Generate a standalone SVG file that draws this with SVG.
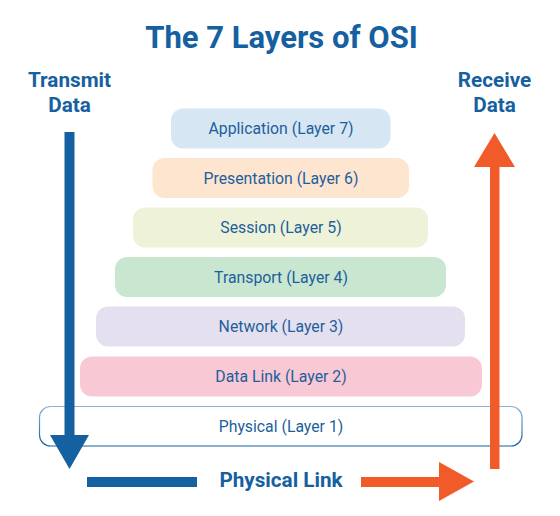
<svg xmlns="http://www.w3.org/2000/svg" width="560" height="516" viewBox="0 0 560 516">
<defs>
<style>
.title{font-family:Roboto,"Liberation Sans",sans-serif;font-weight:700;fill:#1560a0;}
.lbl{font-family:Roboto,"Liberation Sans",sans-serif;font-size:15.8px;fill:#1d5f9c;text-anchor:middle;}
.side{font-family:Roboto,"Liberation Sans",sans-serif;font-weight:700;font-size:20.7px;fill:#1560a0;text-anchor:middle;}
</style>
<linearGradient id="pg" x1="0" y1="0" x2="0" y2="1">
<stop offset="0" stop-color="#8fb1d2"/>
<stop offset="1" stop-color="#1560a0"/>
</linearGradient>
</defs>
<rect width="560" height="516" fill="#ffffff"/>
<text class="title" x="281.5" y="48.3" font-size="31" text-anchor="middle">The 7 Layers of OSI</text>
<text class="side" x="69.5" y="87">Transmit</text>
<text class="side" x="69.5" y="112">Data</text>
<text class="side" x="494.5" y="87">Receive</text>
<text class="side" x="494.5" y="112">Data</text>
<g id="layer7"><rect x="171" y="108.5" width="219.5" height="40" rx="12" fill="#d6e6f3"/><text class="lbl" x="281" y="134">Application (Layer 7)</text></g>
<g id="layer6"><rect x="152.5" y="158" width="256.5" height="40" rx="12" fill="#fde5d0"/><text class="lbl" x="281" y="183.5">Presentation (Layer 6)</text></g>
<g id="layer5"><rect x="133" y="207.5" width="295" height="40" rx="12" fill="#eef2d8"/><text class="lbl" x="281" y="233">Session (Layer 5)</text></g>
<g id="layer4"><rect x="115" y="257" width="331" height="40" rx="12" fill="#c9e6d1"/><text class="lbl" x="281" y="282.5">Transport (Layer 4)</text></g>
<g id="layer3"><rect x="96" y="306.5" width="369" height="40" rx="12" fill="#e5e0ef"/><text class="lbl" x="281" y="332">Network (Layer 3)</text></g>
<g id="layer2"><rect x="80" y="356.5" width="402" height="40" rx="12" fill="#f8c8d4"/><text class="lbl" x="281" y="382">Data Link (Layer 2)</text></g>
<g id="layer1"><rect x="39.5" y="406.5" width="482.5" height="39.5" rx="11" fill="#ffffff" stroke="url(#pg)" stroke-width="1.2"/><text class="lbl" x="281" y="431.5">Physical (Layer 1)</text></g>
<g id="connectors">
<rect x="64.5" y="132" width="10" height="304" fill="#1560a0"/>
<polygon points="50,435 89,435 69.5,469" fill="#1560a0"/>
<rect x="87" y="477" width="110" height="10" fill="#1560a0"/>
<rect x="490" y="166" width="9.5" height="303" fill="#f15a29"/>
<polygon points="474,167 515,167 494.5,133" fill="#f15a29"/>
<rect x="361" y="477" width="80" height="10" fill="#f15a29"/>
<polygon points="439,462 439,501 474,481.5" fill="#f15a29"/>
</g>
<text class="side" x="281" y="487">Physical Link</text>
</svg>
